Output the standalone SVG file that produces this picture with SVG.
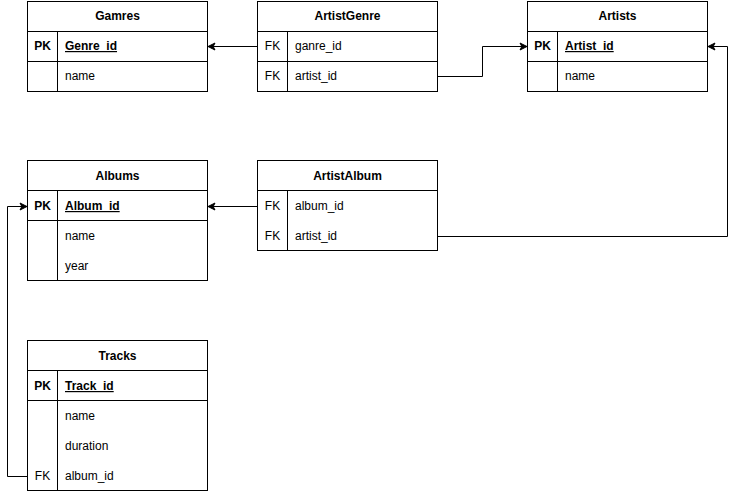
<svg xmlns="http://www.w3.org/2000/svg" width="736" height="491" viewBox="0 0 736 491">
  <style>
    .box { fill: #ffffff; stroke: #000000; stroke-width: 1; }
    .ln { stroke: #000000; stroke-width: 1; fill: none; }
    text { font-family: "Liberation Sans", Arial, sans-serif; font-size: 12px; fill: #000000; }
    .title { font-weight: bold; text-anchor: middle; }
    .key { text-anchor: middle; }
    .pk { font-weight: bold; text-anchor: middle; }
    .pkname { font-weight: bold; text-decoration: underline; }
    .edge { stroke: #000000; stroke-width: 1; fill: none; marker-end: url(#arrow); }
  </style>
  <defs>
    <marker id="arrow" markerWidth="10" markerHeight="10" refX="8" refY="5" orient="auto" markerUnits="userSpaceOnUse">
      <path d="M8,5 L1,1.5 L2.8,5 L1,8.5 Z" fill="#000000" stroke="#000000" stroke-width="1"/>
    </marker>
  </defs>

  <!-- Gamres -->
  <g id="gamres">
    <rect class="box" x="27.5" y="1.5" width="180" height="90"/>
    <line class="ln" x1="27.5" y1="31.5" x2="207.5" y2="31.5"/>
    <line class="ln" x1="27.5" y1="61.5" x2="207.5" y2="61.5"/>
    <line class="ln" x1="57.5" y1="31.5" x2="57.5" y2="91.5"/>
    <text class="title" x="117.5" y="20">Gamres</text>
    <text class="pk" x="42.5" y="50">PK</text>
    <text class="pkname" x="65" y="50">Genre_id</text>
    <text x="65" y="80">name</text>
  </g>

  <!-- ArtistGenre -->
  <g id="artistgenre">
    <rect class="box" x="257.5" y="1.5" width="180" height="90"/>
    <line class="ln" x1="257.5" y1="31.5" x2="437.5" y2="31.5"/>
    <line class="ln" x1="257.5" y1="61.5" x2="437.5" y2="61.5"/>
    <line class="ln" x1="287.5" y1="31.5" x2="287.5" y2="91.5"/>
    <text class="title" x="347.5" y="20">ArtistGenre</text>
    <text class="key" x="272.5" y="50">FK</text>
    <text x="295" y="50">ganre_id</text>
    <text class="key" x="272.5" y="80">FK</text>
    <text x="295" y="80">artist_id</text>
  </g>

  <!-- Artists -->
  <g id="artists">
    <rect class="box" x="527.5" y="1.5" width="180" height="90"/>
    <line class="ln" x1="527.5" y1="31.5" x2="707.5" y2="31.5"/>
    <line class="ln" x1="527.5" y1="61.5" x2="707.5" y2="61.5"/>
    <line class="ln" x1="557.5" y1="31.5" x2="557.5" y2="91.5"/>
    <text class="title" x="617.5" y="20">Artists</text>
    <text class="pk" x="542.5" y="50">PK</text>
    <text class="pkname" x="565" y="50">Artist_id</text>
    <text x="565" y="80">name</text>
  </g>

  <!-- Albums -->
  <g id="albums">
    <rect class="box" x="27.5" y="160.5" width="180" height="120"/>
    <line class="ln" x1="27.5" y1="190.5" x2="207.5" y2="190.5"/>
    <line class="ln" x1="27.5" y1="220.5" x2="207.5" y2="220.5"/>
    <line class="ln" x1="57.5" y1="190.5" x2="57.5" y2="280.5"/>
    <text class="title" x="117.5" y="180">Albums</text>
    <text class="pk" x="42.5" y="210">PK</text>
    <text class="pkname" x="65" y="210">Album_id</text>
    <text x="65" y="240">name</text>
    <text x="65" y="270">year</text>
  </g>

  <!-- ArtistAlbum -->
  <g id="artistalbum">
    <rect class="box" x="257.5" y="160.5" width="180" height="90"/>
    <line class="ln" x1="257.5" y1="190.5" x2="437.5" y2="190.5"/>
    <line class="ln" x1="287.5" y1="190.5" x2="287.5" y2="250.5"/>
    <text class="title" x="347.5" y="180">ArtistAlbum</text>
    <text class="key" x="272.5" y="210">FK</text>
    <text x="295" y="210">album_id</text>
    <text class="key" x="272.5" y="240">FK</text>
    <text x="295" y="240">artist_id</text>
  </g>

  <!-- Tracks -->
  <g id="tracks">
    <rect class="box" x="27.5" y="340.5" width="180" height="150"/>
    <line class="ln" x1="27.5" y1="370.5" x2="207.5" y2="370.5"/>
    <line class="ln" x1="27.5" y1="400.5" x2="207.5" y2="400.5"/>
    <line class="ln" x1="57.5" y1="370.5" x2="57.5" y2="490.5"/>
    <text class="title" x="117.5" y="360">Tracks</text>
    <text class="pk" x="42.5" y="390">PK</text>
    <text class="pkname" x="65" y="390">Track_id</text>
    <text x="65" y="420">name</text>
    <text x="65" y="450">duration</text>
    <text class="key" x="42.5" y="480">FK</text>
    <text x="65" y="480">album_id</text>
  </g>

  <!-- Connectors -->
  <g id="connectors">
    <path class="edge" d="M257.5,46.5 L208,46.5"/>
    <path class="edge" d="M437.5,76.5 L482.5,76.5 L482.5,46.5 L527,46.5"/>
    <path class="edge" d="M437.5,236.5 L727.5,236.5 L727.5,46.5 L708,46.5"/>
    <path class="edge" d="M257.5,206.5 L208,206.5"/>
    <path class="edge" d="M27.5,476.5 L7.5,476.5 L7.5,206.5 L27,206.5"/>
  </g>
</svg>
